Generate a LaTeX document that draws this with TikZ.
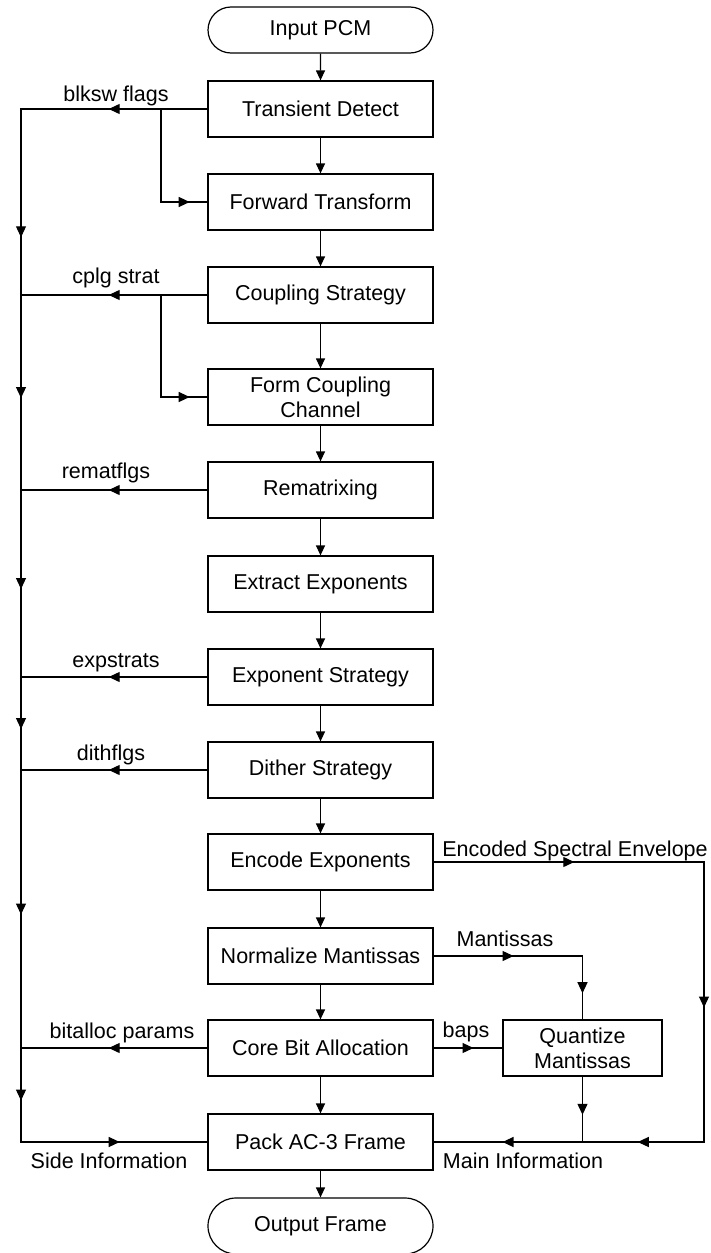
\documentclass[tikz,border=0pt]{standalone}
\usepackage{fontspec}
\setmainfont{Liberation Sans}
\usetikzlibrary{arrows.meta,shapes.misc,decorations.markings}

\tikzset{
  blk/.style={draw, line width=1.2pt, minimum width=225pt, minimum height=56pt, align=center, inner sep=0pt},
  term/.style={blk, rounded rectangle, minimum height=46pt},
  lbl/.style={inner sep=0pt, anchor=base},
  wire/.style={line width=1.2pt, line cap=rect},
  flow/.style={line width=1.2pt, -{Triangle[length=10pt,width=9pt]}},
  midarrow/.style={wire, postaction={decorate, decoration={markings,
      mark=at position #1 with {\arrow[xshift=5.5pt]{Triangle[length=11pt,width=10pt]}}}}},
  midarrow/.default=0.5
}

\begin{document}
\begin{tikzpicture}[x=1pt, y=-1pt, font=\fontsize{21.5}{25}\selectfont]
    \useasboundingbox (0,0) rectangle (711,1253);

    % main column
    \node[term] (inpcm) at (320.5,30) {Input PCM};
    \node[blk] (td) at (320.5,109) {Transient Detect};
    \node[blk] (ft) at (320.5,202) {Forward Transform};
    \node[blk] (cs) at (320.5,295) {Coupling Strategy};
    \node[blk] (fcc) at (320.5,397) {Form Coupling\\Channel};
    \node[blk] (rm) at (320.5,490) {Rematrixing};
    \node[blk] (ee) at (320.5,584) {Extract Exponents};
    \node[blk] (es) at (320.5,677) {Exponent Strategy};
    \node[blk] (ds) at (320.5,770) {Dither Strategy};
    \node[blk] (enc) at (320.5,862) {Encode Exponents};
    \node[blk] (nm) at (320.5,956) {Normalize Mantissas};
    \node[blk] (cba) at (320.5,1048) {Core Bit Allocation};
    \node[blk] (pack) at (320.5,1142) {Pack AC-3 Frame};
    \node[term, minimum height=56pt] (outfr) at (320.5,1226) {Output Frame};
    \node[blk, minimum width=159pt] (qm) at (582.5,1048) {Quantize\\Mantissas};

    \coordinate (bus) at (21,109);
    \coordinate (br) at (161,109);
    \coordinate (rt) at (704,862);

    \foreach \a/\b in {inpcm/td, td/ft, ft/cs, cs/fcc, fcc/rm, rm/ee, ee/es,
                       es/ds, ds/enc, enc/nm, nm/cba, cba/pack, pack/outfr}
        \draw[flow] (\a) -- (\b);

    % side information
    \foreach \n in {td, cs, rm, es, ds, cba}
        \draw[midarrow] (\n.west) -- (bus |- \n.west);
    \foreach \a/\b in {td/ft, cs/fcc} {
        \draw[wire] (br |- \a.west) -- (br |- \b.west);
        \draw[midarrow] (br |- \b.west) -- (\b.west);
    }
    \draw[midarrow=0.66] (bus |- td.west) -- (bus |- cs.west);
    \foreach \a/\b in {cs/rm, rm/es, es/ds, ds/cba, cba/pack}
        \draw[midarrow] (bus |- \a.west) -- (bus |- \b.west);
    \draw[midarrow] (bus |- pack.west) -- (pack.west);

    % main information
    \draw[midarrow] (enc.east) -- (rt);
    \draw[midarrow] (rt) -- (rt |- pack.east);
    \draw[midarrow] (rt |- pack.east) -- (qm |- pack.east);
    \draw[midarrow] (qm |- pack.east) -- (pack.east);
    \draw[midarrow] (qm.south) -- (qm |- pack.east);
    \draw[midarrow] (nm.east) -- (qm |- nm.east);
    \draw[midarrow] (qm |- nm.east) -- (qm.north);
    \draw[midarrow] (cba.east) -- (qm.west);

    \node[lbl] (lblksw) at (116,101) {blksw flags};
    \node[lbl] (lcplg) at (116,283) {cplg strat};
    \node[lbl] (lremat) at (106,478) {rematflgs};
    \node[lbl] (lexp) at (116,667) {expstrats};
    \node[lbl] (ldith) at (111,760) {dithflgs};
    \node[lbl] (lbit) at (122,1038) {bitalloc params};
    \node[lbl] (lenv) at (575,856) {Encoded Spectral Envelope};
    \node[lbl] (lmant) at (505,946) {Mantissas};
    \node[lbl] (lbaps) at (466,1037) {baps};
    \node[lbl] (lside) at (109,1168) {Side Information};
    \node[lbl] (lmain) at (523,1168) {Main Information};
\end{tikzpicture}
\end{document}
